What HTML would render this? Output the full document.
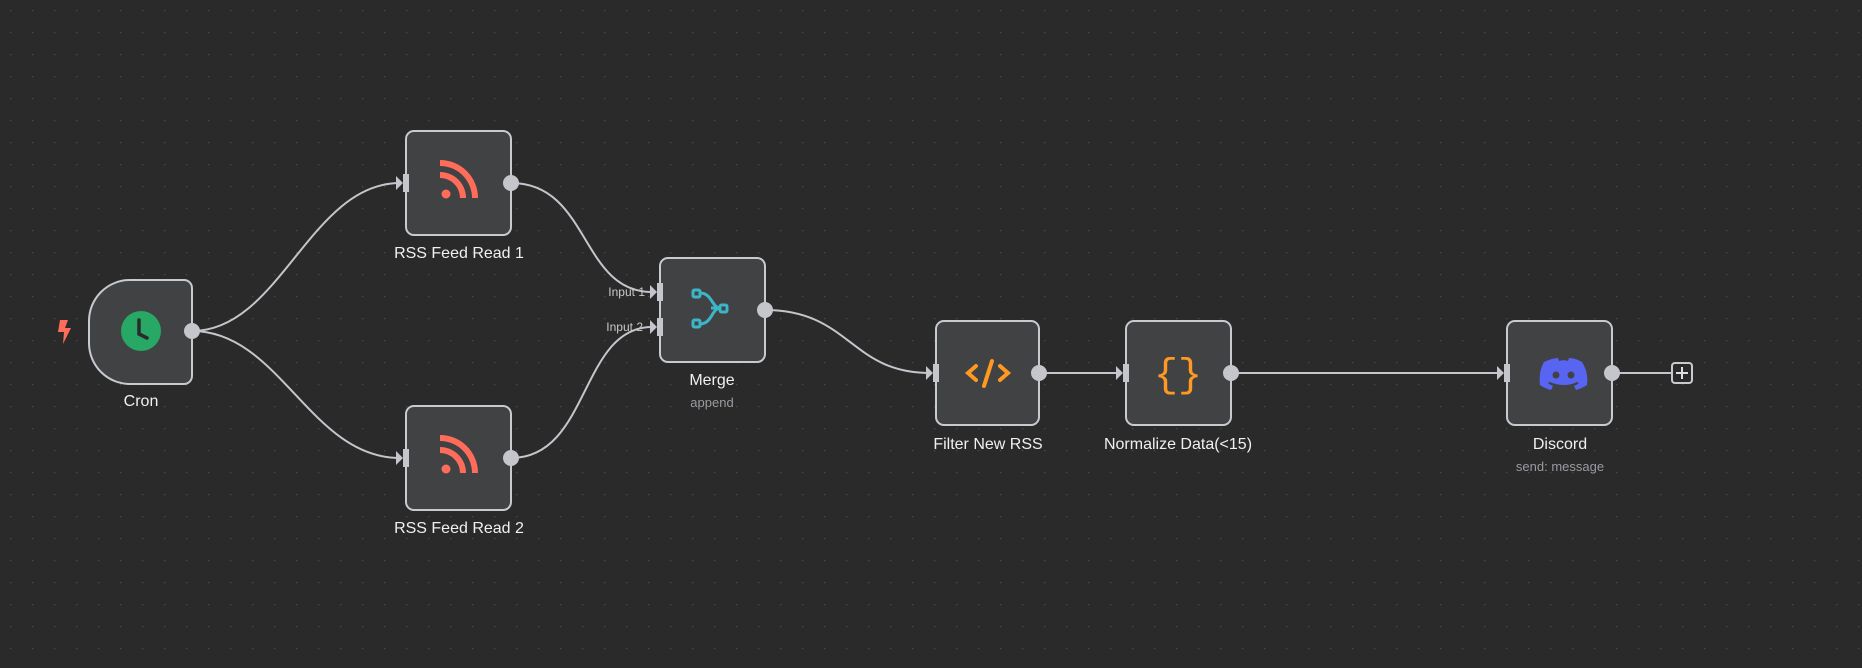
<!DOCTYPE html>
<html><head><meta charset="utf-8"><style>
html,body{margin:0;padding:0;background:#2a2a2a;}
svg{display:block;font-family:"Liberation Sans",sans-serif;}
</style></head><body>
<svg width="1862" height="668" viewBox="0 0 1862 668" xmlns="http://www.w3.org/2000/svg">
<defs>
<pattern id="dots" width="22" height="22" patternUnits="userSpaceOnUse">
<rect x="10" y="10" width="1.3" height="1.3" fill="#4a4a4a"/>
</pattern>
</defs>
<rect width="1862" height="668" fill="#2a2a2a"/>
<rect width="1862" height="668" fill="url(#dots)"/>

<g fill="none" stroke="#c4c6cc" stroke-width="2">
<path d="M192 331 C280 331 310 183 400 183"/>
<path d="M192 331 C280 331 310 458 400 458"/>
<path d="M511 183 C590 183 580 292 652 292"/>
<path d="M511 458 C590 458 580 327 652 327"/>
<path d="M765 310 C850 310 850 373 930 373"/>
<path d="M1039 373 L1120 373"/>
<path d="M1231 373 L1501 373"/>
<path d="M1612 373 L1671 373"/>
</g>

<!-- nodes -->
<g fill="#414244" stroke="#c8cad0" stroke-width="2">
<path d="M130 280 H184 a8 8 0 0 1 8 8 V376 a8 8 0 0 1 -8 8 H130 a41 41 0 0 1 -41 -41 V321 a41 41 0 0 1 41 -41 Z"/>
<rect x="406" y="131" width="105" height="104" rx="8"/>
<rect x="406" y="406" width="105" height="104" rx="8"/>
<rect x="660" y="258" width="105" height="104" rx="8"/>
<rect x="936" y="321" width="103" height="104" rx="8"/>
<rect x="1126" y="321" width="105" height="104" rx="8"/>
<rect x="1507" y="321" width="105" height="104" rx="8"/>
</g>

<!-- output handles -->
<g fill="#c4c6cc">
<circle cx="192" cy="331" r="8"/>
<circle cx="511" cy="183" r="8"/>
<circle cx="511" cy="458" r="8"/>
<circle cx="765" cy="310" r="8"/>
<circle cx="1039" cy="373" r="8"/>
<circle cx="1231" cy="373" r="8"/>
<circle cx="1612" cy="373" r="8"/>
<!-- input handles -->
<rect x="403" y="174" width="6" height="18"/><path d="M396 176 L403 183 L396 190 Z"/>
<rect x="403" y="449" width="6" height="18"/><path d="M396 451 L403 458 L396 465 Z"/>
<rect x="657" y="283" width="6" height="18"/><path d="M650 285 L657 292 L650 299 Z"/>
<rect x="657" y="318" width="6" height="18"/><path d="M650 320 L657 327 L650 334 Z"/>
<rect x="933" y="364" width="6" height="18"/><path d="M926 366 L933 373 L926 380 Z"/>
<rect x="1123" y="364" width="6" height="18"/><path d="M1116 366 L1123 373 L1116 380 Z"/>
<rect x="1504" y="364" width="6" height="18"/><path d="M1497 366 L1504 373 L1497 380 Z"/>
</g>
<rect x="1672" y="363" width="20" height="20" rx="3" fill="#2a2a2a" stroke="#c8cad0" stroke-width="2"/>
<path d="M1682 367 V379 M1676 373 H1688" stroke="#e0e0e0" stroke-width="2"/>

<!-- lightning -->
<path d="M60 320 L68 320 L65 328 L71 328 L63 344 L64 332 L58 332 Z" fill="#ff6d5a"/>

<!-- cron icon -->
<circle cx="141" cy="331" r="20" fill="#27a864"/>
<path d="M139 320 V334 L147 338" stroke="#2a2a2a" stroke-width="3.5" fill="none" stroke-linecap="round"/>

<!-- rss icons -->
<g fill="#ff6d5a">
<circle cx="446" cy="194" r="4.5"/>
<path d="M440 172 a26 26 0 0 1 26 26 h-6 a20 20 0 0 0 -20 -20 Z"/>
<path d="M440 160 a38 38 0 0 1 38 38 h-6 a32 32 0 0 0 -32 -32 Z"/>
<circle cx="446" cy="469" r="4.5"/>
<path d="M440 447 a26 26 0 0 1 26 26 h-6 a20 20 0 0 0 -20 -20 Z"/>
<path d="M440 435 a38 38 0 0 1 38 38 h-6 a32 32 0 0 0 -32 -32 Z"/>
</g>

<!-- merge icon -->
<g fill="none" stroke="#3bb6c9" stroke-width="3">
<rect x="693" y="290" width="7" height="7" rx="1.5"/>
<rect x="693" y="320" width="7" height="7" rx="1.5"/>
<rect x="720" y="305" width="7" height="7" rx="1.5"/>
<path d="M700 293 C712 293 712 308 720 308 M700 324 C712 324 712 308 720 308 M711 308 H720"/>
</g>

<!-- code icon -->
<g fill="none" stroke="#ff9922" stroke-width="4" stroke-linecap="round">
<path d="M976 366 L968 373 L976 380"/>
<path d="M1000 366 L1008 373 L1000 380"/>
<path d="M992 361 L984 386"/>
</g>

<!-- braces -->
<text x="1178" y="386" text-anchor="middle" font-size="40" fill="#ff9922" font-family="Liberation Mono,monospace">{}</text>

<!-- discord -->
<path d="M1544 362 C1550 359 1556 358 1558 358 L1559 361 C1562 360 1566 360 1568 361 L1569 358 C1572 358 1577 359 1582 362 C1587 370 1588 378 1587 385 C1583 388 1579 389 1576 390 L1574 386 C1576 385 1578 384 1579 383 L1577 382 C1569 386 1559 386 1550 382 L1548 383 C1549 384 1551 385 1553 386 L1551 390 C1548 389 1544 388 1540 385 C1539 377 1540 369 1544 362 Z" fill="#5865f2"/>
<circle cx="1556" cy="375" r="3.5" fill="#414244"/>
<circle cx="1571" cy="375" r="3.5" fill="#414244"/>

<!-- labels -->
<g fill="#f0f0f0" font-size="16" text-anchor="middle">
<text x="141" y="406">Cron</text>
<text x="459" y="258">RSS Feed Read 1</text>
<text x="459" y="533">RSS Feed Read 2</text>
<text x="712" y="385">Merge</text>
<text x="988" y="449">Filter New RSS</text>
<text x="1178" y="449">Normalize Data(&lt;15)</text>
<text x="1560" y="449">Discord</text>
</g>
<g fill="#9a9ba0" font-size="13" text-anchor="middle">
<text x="712" y="407">append</text>
<text x="1560" y="471">send: message</text>
</g>
<g fill="#c8c8c8" font-size="12" text-anchor="end">
<text x="645" y="296">Input 1</text>
<text x="643" y="331">Input 2</text>
</g>
</svg>
</body></html>
